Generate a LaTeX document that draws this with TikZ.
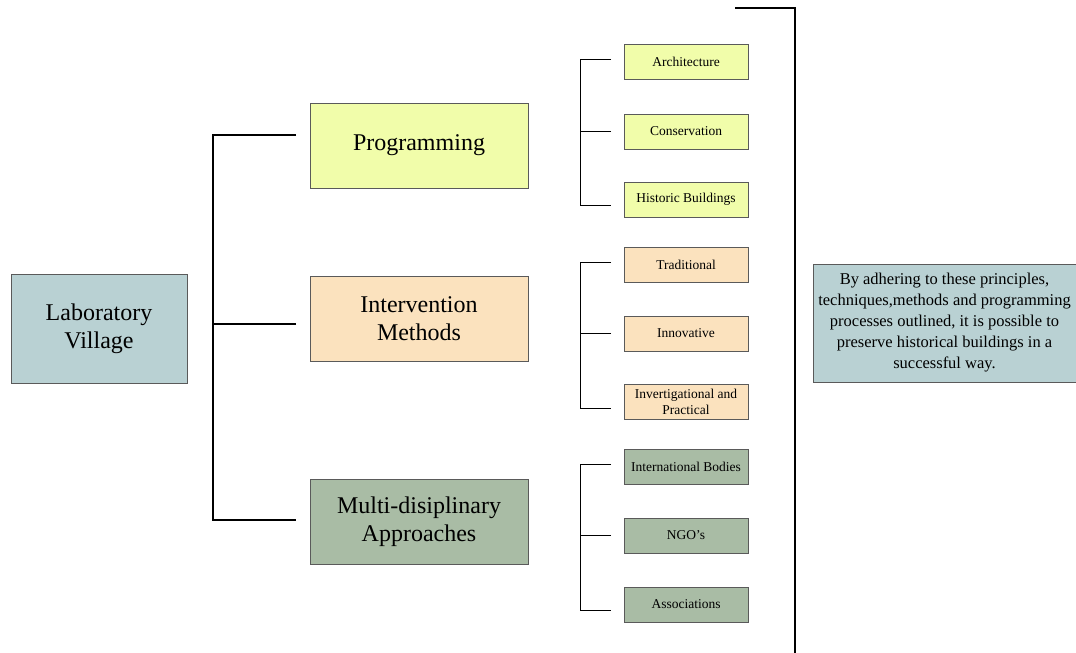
\documentclass[tikz,border=0pt]{standalone}
\usepackage{fontspec}
\setmainfont{Liberation Serif}
\usepackage{tikz}
\definecolor{labblue}{HTML}{B9D1D3}
\definecolor{progyellow}{HTML}{F1FDAA}
\definecolor{methorange}{HTML}{FBE2BE}
\definecolor{multigreen}{HTML}{A9BCA5}
\definecolor{boxedge}{HTML}{5A5A5A}
\begin{document}
\begin{tikzpicture}[x=1pt,y=-1pt,
    mainbox/.style={draw=boxedge, line width=0.9pt, inner sep=0pt, outer sep=0pt,
      minimum width=218pt, minimum height=85pt, align=center,
      font=\fontsize{24}{28}\selectfont},
    leafbox/.style={draw=boxedge, line width=0.9pt, inner sep=0pt, outer sep=0pt,
      minimum width=124pt, minimum height=35pt, align=center,
      font=\fontsize{13.5}{16}\selectfont},
    trunkline/.style={line width=2.6pt},
    twigline/.style={line width=1pt},
    railline/.style={line width=2pt}]
  \useasboundingbox (0,0) rectangle (1076,653);
  % root and summary
  \node [mainbox, fill=labblue, minimum width=176pt, minimum height=109pt]
    (lab) at (99,328.5) {Laboratory\\Village};
  \node [draw=boxedge, line width=0.9pt, fill=labblue, inner sep=0pt, outer sep=0pt,
    minimum width=263pt, minimum height=118pt, align=center,
    font=\fontsize{16.5}{21}\selectfont] (sum) at (944.5,323)
    {By adhering to these principles,\\techniques,methods and programming\\
     processes outlined, it is possible to\\preserve historical buildings in a\\
     successful way.};
  % main branches
  \node [mainbox, fill=progyellow] (prog) at (419,145.5) {Programming};
  \node [mainbox, fill=methorange] (inter) at (419,318.5) {Intervention\\Methods};
  \node [mainbox, fill=multigreen] (multi) at (419,521.5) {Multi-disiplinary\\Approaches};
  % leaves
  \node [leafbox, fill=progyellow] (arch) at (686,62) {Architecture};
  \node [leafbox, fill=progyellow] (cons) at (686,131.5) {Conservation};
  \node [leafbox, fill=progyellow] (hist) at (686,199.5) {Historic Buildings};
  \node [leafbox, fill=methorange] (trad) at (686,264.5) {Traditional};
  \node [leafbox, fill=methorange] (inno) at (686,333.5) {Innovative};
  \node [leafbox, fill=methorange] (inv) at (686,402) {Invertigational and\\Practical};
  \node [leafbox, fill=multigreen] (intl) at (686,466.5) {International Bodies};
  \node [leafbox, fill=multigreen] (ngo) at (686,535.5) {NGO's};
  \node [leafbox, fill=multigreen] (assoc) at (686,604.5) {Associations};
  % main bracket
  \draw [trunkline] ([shift={(-14pt,10.5pt)}]prog.west) -- ++(-83,0)
    |- ([shift={(-14pt,1.5pt)}]multi.west);
  \draw [trunkline] ([shift={(-14pt,-5.5pt)}]inter.west) -- ++(-83,0);
  % leaf brackets
  \foreach \first/\mid/\last in {arch/cons/hist, trad/inno/inv, intl/ngo/assoc} {
    \draw [twigline] ([shift={(-13pt,2.5pt)}]\first.west) -- ++(-31,0)
      |- ([shift={(-13pt,-6pt)}]\last.west);
    \draw [twigline] ([xshift=-13pt]\mid.west) -- ++(-31,0);
  }
  % rail
  \coordinate (railstart) at (735,8);
  \coordinate (railtop) at (795,8);
  \coordinate (railfoot) at (795,653);
  \draw [railline] (railstart) -- (railtop) -- (railfoot);
\end{tikzpicture}
\end{document}
